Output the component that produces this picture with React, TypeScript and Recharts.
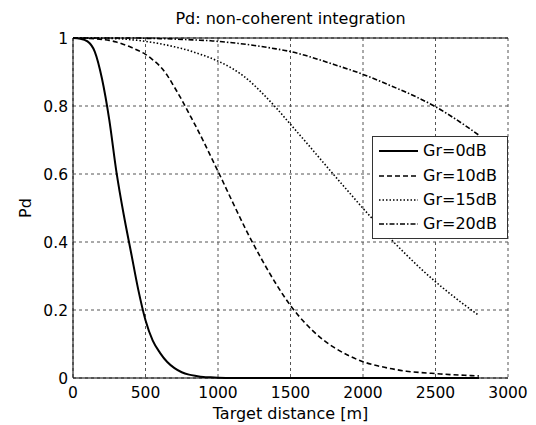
import React from 'react';
import { LineChart, Line, XAxis, YAxis, CartesianGrid, Label } from 'recharts';

const distance = [
  0, 50, 100, 150, 200, 250, 300, 350, 400, 450, 500, 550, 600, 650, 700, 750, 800, 850, 900, 950, 1000,
  1100, 1200, 1300, 1400, 1500, 1600, 1700, 1800, 1900, 2000, 2100, 2200, 2300, 2400, 2500, 2600, 2700, 2800,
];

const gr0 = [
  1, 0.998, 0.99, 0.96, 0.88, 0.76, 0.605, 0.48, 0.37, 0.26, 0.17, 0.11, 0.074, 0.047, 0.029, 0.017, 0.01, 0.006, 0.003, 0.002, 0.001,
  0, 0, 0, 0, 0, 0, 0, 0, 0, 0, 0, 0, 0, 0, 0, 0, 0, 0,
];

const gr10 = [
  1, 1, 0.999, 0.998, 0.996, 0.993, 0.988, 0.981, 0.973, 0.963, 0.952, 0.936, 0.917, 0.89, 0.855, 0.818, 0.778, 0.738, 0.696, 0.652, 0.608,
  0.518, 0.43, 0.35, 0.277, 0.213, 0.162, 0.121, 0.09, 0.066, 0.048, 0.036, 0.027, 0.02, 0.016, 0.013, 0.01, 0.008, 0.006,
];

const gr15 = [
  1, 1, 1, 1, 0.999, 0.999, 0.998, 0.997, 0.995, 0.993, 0.99, 0.987, 0.983, 0.979, 0.974, 0.969, 0.963, 0.956, 0.949, 0.941, 0.932,
  0.91, 0.88, 0.84, 0.795, 0.746, 0.697, 0.647, 0.597, 0.548, 0.499, 0.452, 0.405, 0.362, 0.321, 0.283, 0.248, 0.215, 0.184,
];

const gr20 = [
  1, 1, 1, 1, 1, 1, 1, 1, 1, 1, 0.999, 0.999, 0.998, 0.998, 0.997, 0.996, 0.995, 0.994, 0.993, 0.992, 0.99,
  0.986, 0.981, 0.975, 0.968, 0.96, 0.949, 0.936, 0.922, 0.908, 0.893, 0.876, 0.858, 0.84, 0.82, 0.798, 0.772, 0.744, 0.714,
];

const xTicks = [0, 500, 1000, 1500, 2000, 2500, 3000];
const yTicks = [0, 0.2, 0.4, 0.6, 0.8, 1];
const seriesNames = ['Gr=0dB', 'Gr=10dB', 'Gr=15dB', 'Gr=20dB'];
const seriesKeys = ['g0', 'g10', 'g15', 'g20'];

const data = distance.map((d, i) => ({ d, g0: gr0[i], g10: gr10[i], g15: gr15[i], g20: gr20[i] }));

const FONT = '"DejaVu Sans", "Liberation Sans", Arial, sans-serif';

const lineStyles = [
  { width: 2, dash: undefined as string | undefined },
  { width: 1.6, dash: '5 3' },
  { width: 1.6, dash: '1.5 2' },
  { width: 1.6, dash: '5 2 1.5 2' },
];

function LegendBox() {
  return (
    <div
      style={{
        position: 'absolute',
        left: 364,
        top: 128,
        width: 136,
        height: 103,
        boxSizing: 'border-box',
        border: '1px solid #333',
        background: '#fff',
        paddingTop: 2,
        fontFamily: FONT,
        fontSize: 16,
        color: '#000',
      }}
    >
      {seriesNames.map((name, i) => (
        <div key={name} style={{ height: 24.4, display: 'flex', alignItems: 'center' }}>
          <svg width={45} height={10} style={{ display: 'block' }}>
            <line
              x1={6}
              x2={45}
              y1={5}
              y2={5}
              stroke="#000"
              strokeWidth={lineStyles[i].width}
              strokeDasharray={lineStyles[i].dash}
            />
          </svg>
          <span style={{ marginLeft: 5, lineHeight: '18px' }}>{name}</span>
        </div>
      ))}
    </div>
  );
}

export default function App() {
  const tickStyle = { fontFamily: FONT, fontSize: 15.5, fill: '#000' };
  return (
    <div style={{ position: 'relative', width: 528, height: 417, background: '#fff' }}>
      <LineChart width={528} height={417} data={data} margin={{ top: 0, right: 28, bottom: 0, left: 0 }}>
        <CartesianGrid stroke="#555" strokeDasharray="3 3" fill="none" />
        <XAxis
          xAxisId={0}
          dataKey="d"
          type="number"
          domain={[0, 3000]}
          ticks={xTicks}
          interval={0}
          height={47}
          tickLine={false}
          tickSize={0}
          tickMargin={9}
          tick={tickStyle}
          axisLine={{ stroke: '#000' }}
        >
          <Label
            value="Target distance [m]"
            position="insideBottom"
            offset={6}
            style={{ fontFamily: FONT, fontSize: 16, fill: '#000' }}
          />
        </XAxis>
        <XAxis
          xAxisId="top"
          orientation="top"
          dataKey="d"
          type="number"
          domain={[0, 3000]}
          ticks={xTicks}
          height={30}
          tick={false}
          tickLine={false}
          axisLine={{ stroke: '#000' }}
        >
          <Label
            value="Pd: non-coherent integration"
            position="insideTop"
            offset={5}
            style={{ fontFamily: FONT, fontSize: 16, fill: '#000' }}
          />
        </XAxis>
        <YAxis
          yAxisId={0}
          type="number"
          domain={[0, 1]}
          ticks={yTicks}
          interval={0}
          width={65}
          tickLine={false}
          tickSize={0}
          tickMargin={5}
          tick={tickStyle}
          axisLine={{ stroke: '#000' }}
        >
          <Label
            value="Pd"
            angle={-90}
            position="insideLeft"
            offset={17}
            style={{ fontFamily: FONT, fontSize: 16, fill: '#000', textAnchor: 'middle' }}
          />
        </YAxis>
        <YAxis
          yAxisId="right"
          orientation="right"
          type="number"
          domain={[0, 1]}
          ticks={yTicks}
          width={0}
          tick={false}
          tickLine={false}
          axisLine={{ stroke: '#000' }}
        />
        {seriesKeys.map((k, i) => (
          <Line
            key={k}
            xAxisId={0}
            yAxisId={0}
            type="monotone"
            dataKey={k}
            name={seriesNames[i]}
            stroke="#000"
            strokeWidth={lineStyles[i].width}
            strokeDasharray={lineStyles[i].dash}
            dot={false}
            activeDot={false}
            isAnimationActive={false}
          />
        ))}
      </LineChart>
      <LegendBox />
    </div>
  );
}
